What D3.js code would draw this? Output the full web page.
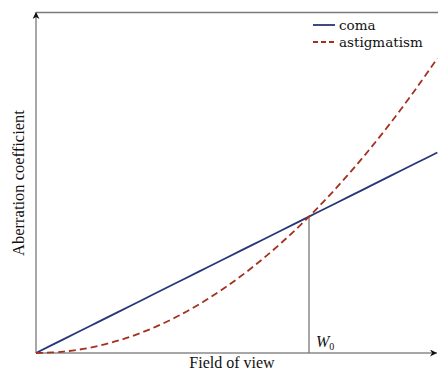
<!DOCTYPE html>
<html>
<head>
<meta charset="utf-8">
<script src="https://cdn.jsdelivr.net/npm/d3@7"></script>
<style>
  html, body { margin: 0; padding: 0; background: #fff; }
  svg { display: block; }
  text { fill: #111; }
  .title { font-family: "Liberation Serif", "Times New Roman", serif; }
  .legend text { font-family: "DejaVu Serif", "Liberation Serif", serif; }
</style>
</head>
<body>
<svg id="chart" width="438" height="374"></svg>
<script>
// Field of view, normalised so that the crossing point W0 sits at 1
const fieldOfView = [0, 0.1, 0.2, 0.3, 0.4, 0.5, 0.6, 0.7, 0.8, 0.9, 1.0, 1.1, 1.2, 1.3, 1.4, 1.47];
// Coma grows linearly with field
const comaValues = [0, 0.1, 0.2, 0.3, 0.4, 0.5, 0.6, 0.7, 0.8, 0.9, 1.0, 1.1, 1.2, 1.3, 1.4, 1.47];
// Astigmatism grows with the square of field
const astigmatismValues = [0, 0.01, 0.04, 0.09, 0.16, 0.25, 0.36, 0.49, 0.64, 0.81, 1.0, 1.21, 1.44, 1.69, 1.96, 2.16];
const seriesNames = ["coma", "astigmatism"];
const crossingField = 1.0;
const crossingLabel = "W";
const crossingSub = "0";
const xTitle = "Field of view";
const yTitle = "Aberration coefficient";

const svg = d3.select("#chart");
const origin = { x: 36, y: 353 };
const plotRight = 438, plotTop = 12;

const x = d3.scaleLinear().domain([0, 1.4725]).range([origin.x, plotRight]);
const y = d3.scaleLinear().domain([0, 2.5]).range([origin.y, plotTop]);

const axisColor = "#8a8a8a";

// arrowhead markers
const defs = svg.append("defs");
defs.append("marker")
  .attr("id", "arrow")
  .attr("viewBox", "0 0 10 10")
  .attr("refX", 10).attr("refY", 5)
  .attr("markerWidth", 7).attr("markerHeight", 7)
  .attr("markerUnits", "userSpaceOnUse")
  .attr("orient", "auto")
  .append("path").attr("d", "M0,0 L10,5 L0,10 L3,5 Z").attr("fill", "#111");

// frame line along the top
svg.append("line")
  .attr("x1", origin.x).attr("x2", plotRight)
  .attr("y1", plotTop + 0.5).attr("y2", plotTop + 0.5)
  .attr("stroke", "#7a7a7a").attr("stroke-width", 1.5);

// axes with arrows
svg.append("line")
  .attr("x1", origin.x).attr("y1", origin.y)
  .attr("x2", plotRight - 1).attr("y2", origin.y)
  .attr("stroke", axisColor).attr("stroke-width", 1.5)
  .attr("marker-end", "url(#arrow)");
svg.append("line")
  .attr("x1", origin.x).attr("y1", origin.y)
  .attr("x2", origin.x).attr("y2", plotTop)
  .attr("stroke", axisColor).attr("stroke-width", 1.5)
  .attr("marker-end", "url(#arrow)");

// vertical marker from the crossing point down to the field axis
const crossIdx = fieldOfView.indexOf(crossingField);
svg.append("line")
  .attr("x1", x(crossingField)).attr("x2", x(crossingField))
  .attr("y1", y(comaValues[crossIdx])).attr("y2", origin.y)
  .attr("stroke", "#777").attr("stroke-width", 1.3);

const pts = arr => fieldOfView.map((f, i) => [f, arr[i]]);
const line = d3.line().x(d => x(d[0])).y(d => y(d[1])).curve(d3.curveCatmullRom);

svg.append("path")
  .attr("d", line(pts(comaValues)))
  .attr("fill", "none").attr("stroke", "#27367a").attr("stroke-width", 1.8);

svg.append("path")
  .attr("d", line(pts(astigmatismValues)))
  .attr("fill", "none").attr("stroke", "#a4301f").attr("stroke-width", 1.8)
  .attr("stroke-dasharray", "7,4");

// W0 label
const wl = svg.append("text").attr("class", "title")
  .attr("x", x(crossingField) + 7).attr("y", origin.y - 6)
  .attr("font-size", 16);
wl.append("tspan").attr("font-style", "italic").text(crossingLabel);
wl.append("tspan").attr("font-size", 10).attr("dy", 3).text(crossingSub);

// axis titles
svg.append("text").attr("class", "title")
  .attr("x", 232).attr("y", 368)
  .attr("text-anchor", "middle").attr("font-size", 16)
  .text(xTitle);
svg.append("text").attr("class", "title")
  .attr("transform", "translate(24,183) rotate(-90)")
  .attr("text-anchor", "middle").attr("font-size", 16.5)
  .text(yTitle);

// legend
const legend = svg.append("g").attr("class", "legend");
const legendStyles = [
  { color: "#27367a", dash: null },
  { color: "#a4301f", dash: "5,3" }
];
seriesNames.forEach((name, i) => {
  const ly = 25 + i * 17;
  legend.append("line")
    .attr("x1", 313).attr("x2", 335).attr("y1", ly).attr("y2", ly)
    .attr("stroke", legendStyles[i].color).attr("stroke-width", 1.8)
    .attr("stroke-dasharray", legendStyles[i].dash);
  legend.append("text")
    .attr("x", 339).attr("y", ly + 5)
    .attr("font-size", 13.5)
    .text(name);
});
</script>
</body>
</html>
